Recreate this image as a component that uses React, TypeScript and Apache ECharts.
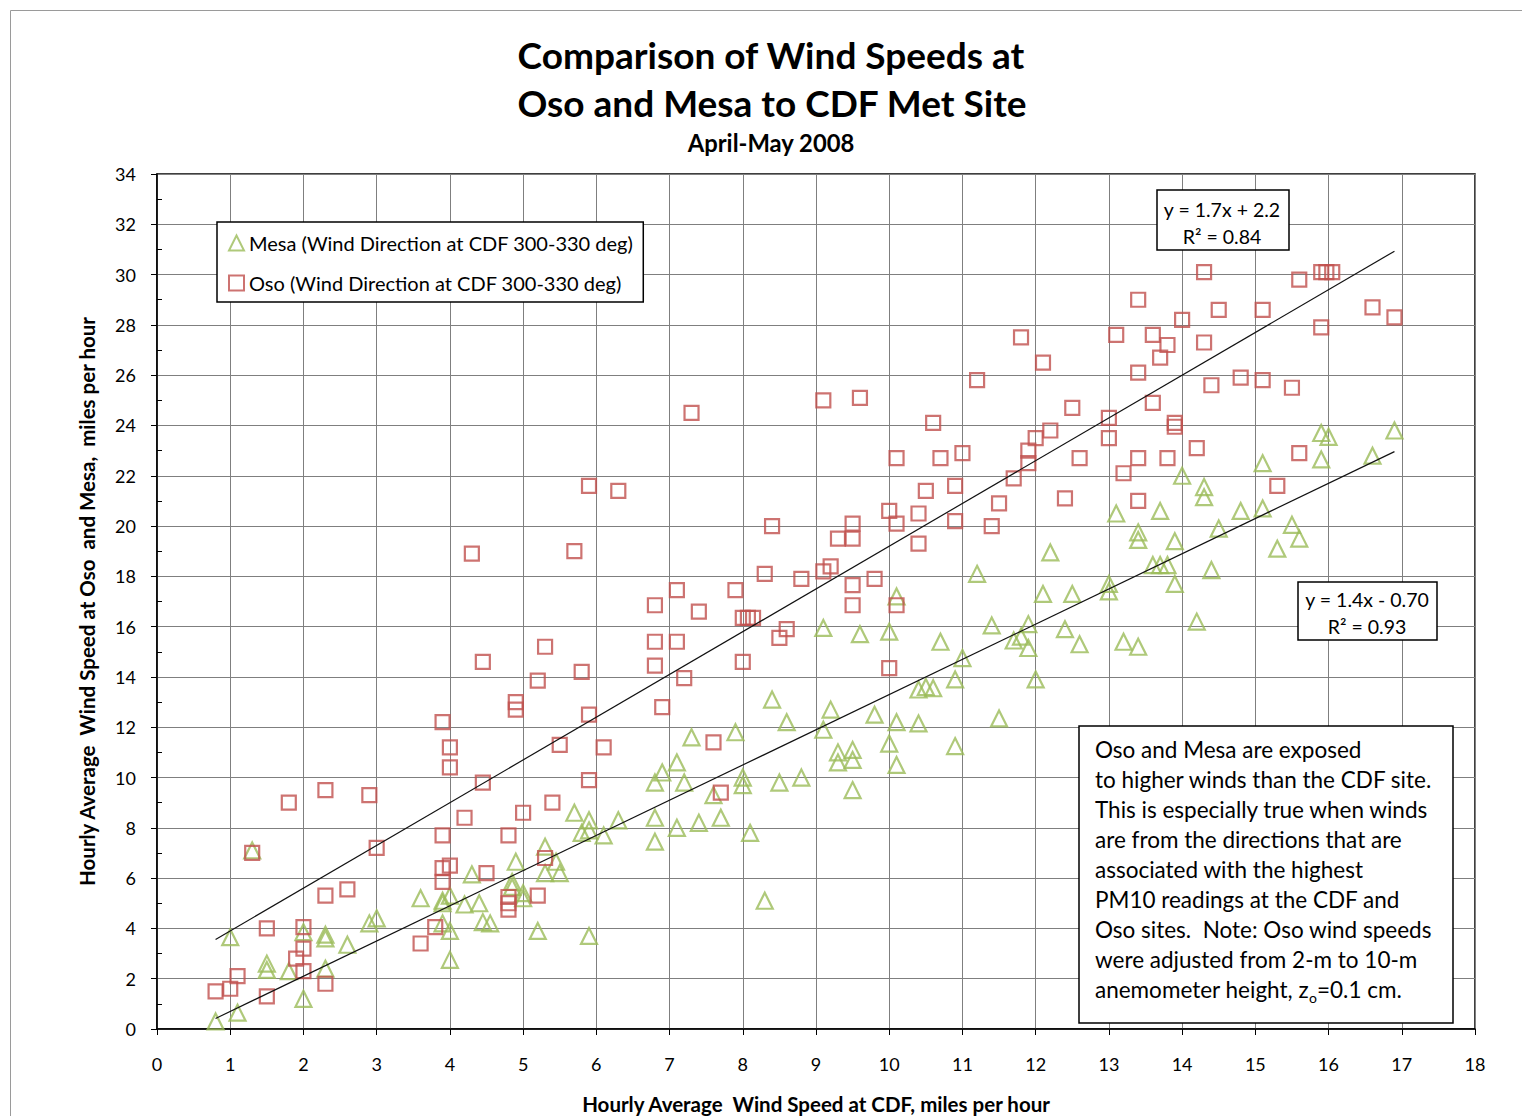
import React, { useEffect, useRef } from "react";
import * as echarts from "echarts";

const FONT = "Lato, 'Open Sans', 'DejaVu Sans', sans-serif";

const MESA_NAME = "Mesa (Wind Direction at CDF 300-330 deg)";
const OSO_NAME = "Oso (Wind Direction at CDF 300-330 deg)";

const titleLines = ["Comparison of Wind Speeds at", "Oso and Mesa to CDF Met Site"];
const subTitle = "April-May 2008";
const xAxisName = "Hourly Average  Wind Speed at CDF, miles per hour";
const yAxisName = "Hourly Average  Wind Speed at Oso  and Mesa,  miles per hour";

const xTicks = { min: 0, max: 18, interval: 1 };
const yTicks = { min: 0, max: 34, interval: 2 };

// Mesa (green triangles): [CDF speed, Mesa speed]
const mesaPoints: [number, number][] = [
  [0.8, 0.3], [1.0, 3.65], [1.1, 0.65], [1.3, 7.1], [1.5, 2.6], [1.5, 2.35], [1.8, 2.3], [2.0, 1.2],
  [2.0, 3.85], [2.3, 3.75], [2.3, 3.6], [2.3, 2.4], [2.6, 3.35], [2.9, 4.2], [3.0, 4.4], [3.6, 5.2],
  [3.9, 5.1], [3.9, 5.0], [3.9, 4.2], [4.0, 3.9], [4.0, 2.75], [4.0, 5.3], [4.2, 4.95], [4.3, 6.15],
  [4.4, 5.0], [4.45, 4.25], [4.55, 4.2], [4.85, 5.85], [4.85, 5.65], [4.9, 6.65], [5.0, 5.4], [5.0, 5.2],
  [5.2, 3.9], [5.3, 7.25], [5.3, 6.2], [5.45, 6.65], [5.5, 6.2], [5.7, 8.6], [5.8, 7.8], [5.9, 8.3],
  [5.9, 7.9], [5.9, 3.7], [6.1, 7.7], [6.3, 8.3], [6.8, 9.8], [6.8, 8.4], [6.8, 7.45], [6.9, 10.2],
  [7.1, 10.6], [7.1, 8.0], [7.2, 9.8], [7.3, 11.6], [7.4, 8.2], [7.6, 9.3], [7.7, 8.4], [7.9, 11.8],
  [8.0, 10.0], [8.0, 9.7], [8.1, 7.8], [8.3, 5.1], [8.4, 13.1], [8.5, 9.8], [8.6, 12.2], [8.8, 10.0],
  [9.1, 15.95], [9.1, 11.9], [9.2, 12.7], [9.3, 11.0], [9.3, 10.6], [9.5, 11.1], [9.5, 10.7], [9.5, 9.5],
  [9.6, 15.7], [9.8, 12.5], [10.0, 15.8], [10.0, 11.35], [10.1, 17.2], [10.1, 12.2], [10.1, 10.5],
  [10.4, 13.5], [10.4, 12.15], [10.5, 13.6], [10.6, 13.55], [10.7, 15.4], [10.9, 13.9], [10.9, 11.25],
  [11.0, 14.75], [11.2, 18.1], [11.4, 16.05], [11.5, 12.35], [11.7, 15.45], [11.8, 15.6], [11.9, 16.1],
  [11.9, 15.15], [12.0, 13.9], [12.1, 17.3], [12.2, 18.95], [12.4, 15.9], [12.5, 17.3], [12.6, 15.3],
  [13.0, 17.7], [13.0, 17.4], [13.1, 20.5], [13.2, 15.4], [13.4, 19.75], [13.4, 19.45], [13.4, 15.2],
  [13.6, 18.45], [13.7, 20.6], [13.7, 18.45], [13.8, 18.45], [13.9, 19.4], [13.9, 17.7], [14.0, 22.0],
  [14.2, 16.2], [14.3, 21.55], [14.3, 21.15], [14.4, 18.25], [14.5, 19.9], [14.8, 20.6], [15.1, 22.5],
  [15.1, 20.7], [15.3, 19.1], [15.5, 20.05], [15.6, 19.5], [15.9, 23.7], [15.9, 22.65], [16.0, 23.55],
  [16.6, 22.8], [16.9, 23.8],
];

// Oso (red squares): [CDF speed, Oso speed]
const osoPoints: [number, number][] = [
  [0.8, 1.5], [1.0, 1.6], [1.1, 2.1], [1.3, 7.0], [1.5, 1.3], [1.5, 4.0], [1.8, 9.0], [1.9, 2.8],
  [2.0, 2.3], [2.0, 3.2], [2.0, 4.05], [2.3, 1.8], [2.3, 5.3], [2.3, 9.5], [2.6, 5.55], [2.9, 9.3],
  [3.0, 7.2], [3.6, 3.4], [3.8, 4.05], [3.9, 12.2], [3.9, 7.7], [3.9, 6.4], [3.9, 5.85], [4.0, 6.5],
  [4.0, 11.2], [4.0, 10.4], [4.2, 8.4], [4.3, 18.9], [4.45, 14.6], [4.45, 9.8], [4.5, 6.2], [4.8, 7.7],
  [4.8, 5.25], [4.8, 5.0], [4.8, 4.75], [4.9, 13.0], [4.9, 12.7], [5.0, 8.6], [5.2, 13.85], [5.2, 5.3],
  [5.3, 15.2], [5.3, 6.8], [5.4, 9.0], [5.5, 11.3], [5.7, 19.0], [5.8, 14.2], [5.9, 21.6], [5.9, 12.5],
  [5.9, 9.9], [6.1, 11.2], [6.3, 21.4], [6.8, 16.85], [6.8, 15.4], [6.8, 14.45], [6.9, 12.8], [7.1, 17.45],
  [7.1, 15.4], [7.2, 13.95], [7.3, 24.5], [7.4, 16.6], [7.6, 11.4], [7.7, 9.4], [7.9, 17.45], [8.0, 16.35],
  [8.07, 16.35], [8.14, 16.35], [8.0, 14.6], [8.3, 18.1], [8.4, 20.0], [8.5, 15.55], [8.6, 15.9], [8.8, 17.9],
  [9.1, 25.0], [9.1, 18.2], [9.2, 18.4], [9.3, 19.5], [9.5, 19.5], [9.5, 20.1], [9.5, 17.65], [9.5, 16.85],
  [9.6, 25.1], [9.8, 17.9], [10.0, 20.6], [10.0, 14.35], [10.1, 20.1], [10.1, 16.85], [10.1, 22.7],
  [10.4, 20.5], [10.4, 19.3], [10.5, 21.4], [10.6, 24.1], [10.7, 22.7], [10.9, 21.6], [10.9, 20.2],
  [11.0, 22.9], [11.2, 25.8], [11.4, 20.0], [11.5, 20.9], [11.7, 21.9], [11.8, 27.5], [11.9, 22.5],
  [11.9, 23.0], [12.0, 23.5], [12.1, 26.5], [12.2, 23.8], [12.4, 21.1], [12.5, 24.7], [12.6, 22.7],
  [13.0, 24.3], [13.0, 23.5], [13.1, 27.6], [13.2, 22.1], [13.4, 29.0], [13.4, 26.1], [13.4, 22.7],
  [13.4, 21.0], [13.6, 24.9], [13.6, 27.6], [13.7, 26.7], [13.8, 27.2], [13.8, 22.7], [13.9, 24.1],
  [13.9, 23.95], [14.0, 28.2], [14.2, 23.1], [14.3, 27.3], [14.3, 30.1], [14.4, 25.6], [14.5, 28.6],
  [14.8, 25.9], [15.1, 28.6], [15.1, 25.8], [15.3, 21.6], [15.5, 25.5], [15.6, 22.9], [15.6, 29.8],
  [15.9, 27.9], [15.9, 30.1], [15.97, 30.1], [16.05, 30.1], [16.6, 28.7], [16.9, 28.3],
];

// Linear trend lines as printed on the chart
const osoFit = { slope: 1.7, intercept: 2.2, eq: "y = 1.7x + 2.2", r2: "R² = 0.84" };
const mesaFit = { slope: 1.4, intercept: -0.7, eq: "y = 1.4x - 0.70", r2: "R² = 0.93" };

const noteLines = [
  "Oso and Mesa are exposed",
  "to higher winds than the CDF site.",
  "This is especially true when winds",
  "are from the directions that are",
  "associated with the highest",
  "PM10 readings at the CDF and",
  "Oso sites.  Note: Oso wind speeds",
  "were adjusted from 2-m to 10-m",
  "anemometer height, z{sub|o}=0.1 cm.",
];

function fitLine(pts: [number, number][], m: number, b: number): [number, number][] {
  const xs = pts.map((p) => p[0]);
  const x0 = Math.min(...xs);
  const x1 = Math.max(...xs);
  return [
    [x0, m * x0 + b],
    [x1, m * x1 + b],
  ];
}

export default function App() {
  const ref = useRef<HTMLDivElement>(null);
  useEffect(() => {
    document.body.style.margin = "0";
    const chart = echarts.init(ref.current!, null, { renderer: "svg" });
    const axisCommon = {
      type: "value",
      nameLocation: "middle",
      nameTextStyle: { fontFamily: FONT, fontWeight: "bold", fontSize: 20, color: "#000" },
      axisLine: { show: true, onZero: false, lineStyle: { color: "#000", width: 1.5 } },
      axisTick: { show: true, inside: false, length: 6, lineStyle: { color: "#000", width: 1 } },
      axisLabel: { color: "#000", fontSize: 18, fontFamily: FONT },
      splitLine: { show: true, lineStyle: { color: "#7f7f7f", width: 1 } },
    };
    const eqFont = `19.5px ${FONT}`;
    chart.setOption({
      animation: false,
      backgroundColor: "#ffffff",
      textStyle: { fontFamily: FONT },
      grid: {
        left: 157,
        right: 47,
        top: 174,
        bottom: 87,
        show: true,
        borderColor: "#000",
        borderWidth: 1.5,
        backgroundColor: "transparent",
        outerBoundsMode: "none",
      },
      xAxis: {
        ...axisCommon,
        min: xTicks.min,
        max: xTicks.max,
        interval: xTicks.interval,
        name: xAxisName,
        nameGap: 64,
        nameTextStyle: { ...axisCommon.nameTextStyle, fontSize: 20.5 },
        axisLabel: { ...axisCommon.axisLabel, margin: 26 },
      },
      yAxis: {
        ...axisCommon,
        min: yTicks.min,
        max: yTicks.max,
        interval: yTicks.interval,
        name: yAxisName,
        nameGap: 60,
        nameTextStyle: { ...axisCommon.nameTextStyle, fontSize: 20.5 },
        axisLabel: { ...axisCommon.axisLabel, margin: 21 },
        minorTick: { show: true, splitNumber: 2, length: -5, lineStyle: { color: "#000", width: 1 } },
      },
      legend: {
        data: [MESA_NAME, OSO_NAME],
        orient: "vertical",
        left: 217,
        top: 222,
        padding: [11, 10, 9, 11],
        itemGap: 20,
        itemWidth: 15,
        itemHeight: 15,
        backgroundColor: "#fff",
        borderColor: "#000",
        borderWidth: 1.5,
        borderRadius: 0,
        textStyle: { fontSize: 20, color: "#000", fontFamily: FONT, lineHeight: 20 },
      },
      series: [
        {
          name: MESA_NAME,
          type: "scatter",
          data: mesaPoints,
          symbol: "triangle",
          symbolSize: 16,
          itemStyle: { color: "rgba(255,255,255,0)", borderColor: "#9BBB59", borderWidth: 2.2 },
          z: 2,
        },
        {
          name: OSO_NAME,
          type: "scatter",
          data: osoPoints,
          symbol: "rect",
          symbolSize: 14,
          itemStyle: { color: "rgba(255,255,255,0)", borderColor: "#C0504D", borderWidth: 2.2 },
          z: 3,
        },
        {
          name: "Oso trend",
          type: "line",
          data: fitLine(osoPoints, osoFit.slope, osoFit.intercept),
          symbol: "none",
          silent: true,
          lineStyle: { color: "#111", width: 1.2 },
          z: 4,
        },
        {
          name: "Mesa trend",
          type: "line",
          data: fitLine(mesaPoints, mesaFit.slope, mesaFit.intercept),
          symbol: "none",
          silent: true,
          lineStyle: { color: "#111", width: 1.2 },
          z: 4,
        },
      ],
      graphic: [
        {
          type: "rect",
          shape: { x: 10.5, y: 10.5, width: 1530, height: 1130 },
          style: { fill: "none", stroke: "#9a9a9a", lineWidth: 1 },
          silent: true,
        },
        {
          type: "text",
          x: 771,
          y: 54,
          style: { text: titleLines[0], fill: "#000", font: `bold 37px ${FONT}`, textAlign: "center", textVerticalAlign: "middle" },
        },
        {
          type: "text",
          x: 772,
          y: 102,
          style: { text: titleLines[1], fill: "#000", font: `bold 37px ${FONT}`, textAlign: "center", textVerticalAlign: "middle" },
        },
        {
          type: "text",
          x: 771,
          y: 143,
          style: { text: subTitle, fill: "#000", font: `bold 23.8px ${FONT}`, textAlign: "center", textVerticalAlign: "middle" },
        },
        {
          type: "rect",
          shape: { x: 1157, y: 190, width: 132, height: 60 },
          style: { fill: "#fff", stroke: "#000", lineWidth: 1.5 },
          z: 10,
        },
        {
          type: "text",
          x: 1222,
          y: 209,
          z: 11,
          style: { text: osoFit.eq, fill: "#000", font: eqFont, textAlign: "center", textVerticalAlign: "middle" },
        },
        {
          type: "text",
          x: 1222,
          y: 236,
          z: 11,
          style: { text: osoFit.r2, fill: "#000", font: eqFont, textAlign: "center", textVerticalAlign: "middle" },
        },
        {
          type: "rect",
          shape: { x: 1298, y: 582, width: 139, height: 58 },
          style: { fill: "#fff", stroke: "#000", lineWidth: 1.5 },
          z: 10,
        },
        {
          type: "text",
          x: 1367,
          y: 599,
          z: 11,
          style: { text: mesaFit.eq, fill: "#000", font: eqFont, textAlign: "center", textVerticalAlign: "middle" },
        },
        {
          type: "text",
          x: 1367,
          y: 626,
          z: 11,
          style: { text: mesaFit.r2, fill: "#000", font: eqFont, textAlign: "center", textVerticalAlign: "middle" },
        },
        {
          type: "rect",
          shape: { x: 1079, y: 726, width: 374, height: 297 },
          style: { fill: "#fff", stroke: "#000", lineWidth: 1.5 },
          z: 10,
        },
        {
          type: "text",
          x: 1095,
          y: 734,
          z: 11,
          style: {
            text: noteLines.join("\n"),
            fill: "#000",
            fontFamily: FONT,
            fontSize: 22.5,
            lineHeight: 30.1,
            textAlign: "left",
            textVerticalAlign: "top",
            rich: {
              sub: { fontSize: 14, lineHeight: 14, verticalAlign: "bottom", fill: "#000", fontFamily: FONT },
            },
          },
        },
      ],
    });
    return () => chart.dispose();
  }, []);
  return <div ref={ref} style={{ width: 1522, height: 1116 }} />;
}
